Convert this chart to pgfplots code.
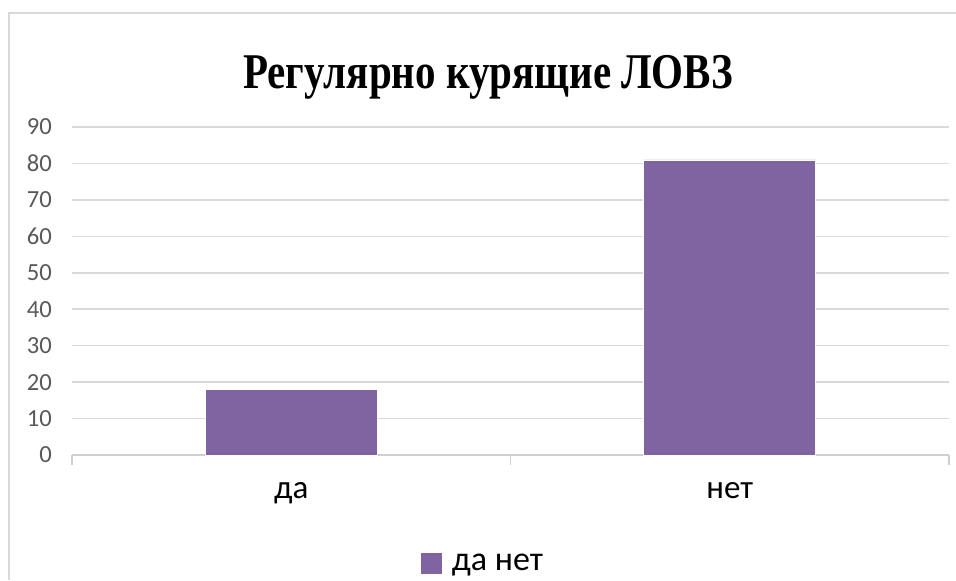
\documentclass[border=0pt]{standalone}
\usepackage{fontspec}
\setmainfont{Carlito}
\newfontfamily\titlefont[FakeStretch=0.82]{Liberation Serif}
\usepackage{pgfplots}
\pgfplotsset{compat=1.18}
\definecolor{barc}{HTML}{8064A2}
\definecolor{gridc}{HTML}{D9D9D9}
\definecolor{axisc}{HTML}{CFCFCF}
\definecolor{tickc}{HTML}{595959}

\begin{document}
\begin{tikzpicture}[x=0.5pt,y=0.5pt]
% 1 px of the reference = 0.5pt, y measured from the bottom
\useasboundingbox (0,0) rectangle (956,580);
\draw[gridc,line width=1pt] (956,567) -- (9,567) -- (9,0);
\node[font=\titlefont\bfseries\fontsize{25}{30}\selectfont] at (488,503) {Регулярно курящие ЛОВЗ};
\begin{axis}[at={(36pt,62.5pt)},anchor=south west,
  scale only axis,width=438.5pt,height=164pt,
  xmin=-0.5,xmax=1.5,ymin=0,ymax=90,
  ybar,bar width=86pt,
  axis x line*=bottom,axis y line*=left,
  y axis line style={draw=none},
  x axis line style={axisc,line width=0.8pt},
  xtick={0,1},xticklabels={да,нет},
  minor xtick={-0.5,0.5,1.5},
  ytick={0,10,...,90},
  major tick length=0pt,minor tick length=5pt,tick align=outside,
  minor x tick style={axisc,line width=0.8pt},
  ymajorgrids,grid style={gridc,line width=0.8pt},
  /pgf/number format/assume math mode=true,
  yticklabel style={font=\fontsize{12.3}{14}\selectfont,text=tickc,anchor=east,xshift=-6.5pt},
  xticklabel style={font=\fontsize{16.5}{19}\selectfont,anchor=base,yshift=-21.5pt},
  legend style={at={(0.47,-0.333)},anchor=center,draw=none,fill=none,
    font=\fontsize{17}{20}\selectfont},
  legend image code/.code={\fill[barc] (0pt,-4.5pt) rectangle (10pt,5.5pt);},
]
\addplot[fill=barc,draw=white,line width=0.3pt] coordinates {(0,18) (1,81)};
\addlegendentry{\hspace{3pt}да нет}
\end{axis}
\end{tikzpicture}
\end{document}
